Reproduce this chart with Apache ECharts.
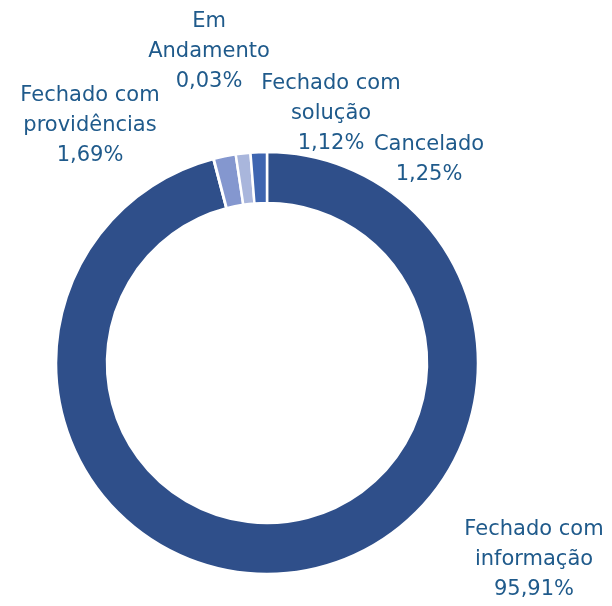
<!DOCTYPE html>
<html>
<head>
<meta charset="utf-8">
<script src="https://cdn.jsdelivr.net/npm/echarts@6/dist/echarts.min.js"></script>
<style>
  html, body { margin: 0; padding: 0; background: #fff; }
  #chart { width: 612px; height: 606px; }
</style>
</head>
<body>
<div id="chart"></div>
<script>
// status names and shares (%), clockwise from the top
var names = ['Fechado com\ninformação', 'Em\nAndamento', 'Fechado com\nprovidências', 'Fechado com\nsolução', 'Cancelado'];
var shares = [95.91, 0.03, 1.69, 1.12, 1.25];
var colors = ['#2f4f8a', '#5a76b8', '#8497cf', '#a9b6dc', '#3e65b0'];

// where each label block sits (center x, middle y)
var labelPos = [[534, 560], [209, 52], [90, 126], [331, 114], [429, 160]];

var chart = echarts.init(document.getElementById('chart'));

var option = {
    animation: false,
    series: [{
        type: 'pie',
        center: [267, 363],
        radius: [160, 211],
        startAngle: 90,
        clockwise: true,
        avoidLabelOverlap: false,
        itemStyle: {
            borderColor: '#fff',
            borderWidth: 2.5
        },
        label: {
            show: true,
            position: 'outside',
            color: '#1f5a8b',
            fontFamily: 'DejaVu Sans',
            fontSize: 21,
            lineHeight: 30,
            align: 'center',
            formatter: function (p) {
                return p.name + '\n' + p.value.toFixed(2).replace('.', ',') + '%';
            }
        },
        labelLine: { show: false },
        labelLayout: function (params) {
            var pos = labelPos[params.dataIndex];
            return {
                x: pos[0],
                y: pos[1],
                align: 'center',
                verticalAlign: 'middle'
            };
        },
        data: names.map(function (n, i) {
            return { name: n, value: shares[i], itemStyle: { color: colors[i] } };
        })
    }]
};

chart.setOption(option);
</script>
</body>
</html>
